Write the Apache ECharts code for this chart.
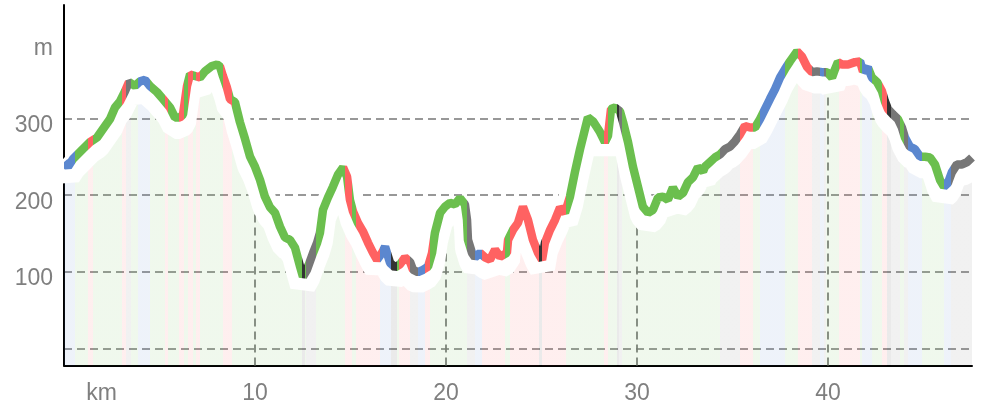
<!DOCTYPE html>
<html><head><meta charset="utf-8">
<script src="https://cdn.jsdelivr.net/npm/echarts@6/dist/echarts.min.js"></script>
<style>html,body{margin:0;padding:0;background:#fff}#c{width:983px;height:407px}</style>
</head><body><div id="c"></div>
<script>
// ---- data (distance in km, elevation in m) ----
const distKm = [0,0.21,0.47,0.99,1.36,1.73,2.04,2.41,2.67,2.93,3.19,3.40,3.72,3.98,4.24,4.50,4.87,5.18,5.55,5.81,6.07,6.23,6.44,6.60,6.86,7.12,7.38,7.75,8.01,8.17,8.32,8.53,8.69,8.95,9.21,9.48,9.74,10.00,10.26,10.52,10.79,11.05,11.31,11.57,11.83,12.09,12.36,12.51,12.72,13.04,13.25,13.40,13.56,13.82,14.08,14.35,14.61,14.82,14.97,15.13,15.39,15.65,15.92,16.18,16.39,16.65,16.81,17.07,17.33,17.59,17.85,18.12,18.27,18.53,18.80,19.06,19.27,19.42,19.69,19.95,20.21,20.47,20.73,20.99,21.10,21.15,21.36,21.52,21.78,22.04,22.30,22.57,22.83,23.19,23.25,23.51,23.77,24.03,24.29,24.55,24.82,25.03,25.18,25.45,25.71,25.97,26.23,26.49,26.75,27.02,27.28,27.43,27.70,27.91,28.06,28.32,28.48,28.64,28.85,29.11,29.27,29.53,29.79,30.05,30.31,30.58,30.84,31.10,31.36,31.62,31.88,32.15,32.41,32.67,32.93,33.19,33.46,33.56,33.82,34.08,34.35,34.61,34.87,35.13,35.39,35.65,35.92,36.18,36.44,36.70,36.96,37.23,37.49,37.75,38.01,38.38,38.64,38.90,39.16,39.42,39.69,39.95,40.21,40.37,40.52,40.73,41.05,41.41,41.68,41.83,42.09,42.30,42.57,42.83,42.98,43.14,43.40,43.66,43.87,44.03,44.29,44.55,44.82,45.08,45.34,45.60,45.86,46.07,46.28,46.49,46.75,47.02,47.28,47.54];
const elevM = [243,237,247,260,269,275,286,299,314,322,335,347,342,348,350,342,334,325,314,301,301,305,342,357,355,353,361,368,370,367,355,340,325,321,295,273,250,237,220,198,184,177,159,145,142,132,107,94,103,125,138,151,181,197,211,227,236,224,194,179,164,153,138,125,116,125,133,112,106,110,119,113,103,100,103,107,125,151,177,185,190,188,196,188,168,142,125,119,125,119,116,129,120,125,142,155,164,185,168,142,125,116,138,155,168,184,177,198,230,260,286,301,296,288,282,269,277,312,314,309,295,269,237,211,185,177,181,197,198,194,210,198,203,217,223,236,231,237,243,249,253,260,263,270,279,290,288,288,299,312,325,338,353,364,374,387,380,367,360,361,360,360,353,364,373,370,370,373,374,361,366,353,347,335,322,312,305,299,288,275,263,260,250,250,249,240,220,211,216,230,240,240,243,249];

// segment start (km) and segment kind
const segStartKm = [0,0.58,1.26,1.52,3.05,3.22,3.5,3.85,4.5,5.3,5.42,6.02,6.28,6.5,6.75,6.9,7.1,8.3,8.8,12.45,12.6,12.65,13.2,14.7,15.08,15.3,16.55,17.1,17.45,17.55,18.1,18.55,18.9,19.15,21.1,21.5,21.9,23.1,23.35,24.85,25.05,26.3,28.27,28.48,28.95,29.05,29.2,34.35,35.4,36.07,36.44,37.75,38.45,39.15,39.6,39.8,39.9,40.58,41.7,41.8,42.3,42.85,43.1,43.3,43.75,43.98,44.2,44.9,46.05,46.45];
const segKind   = ['b','g','r','g','r','s','g','b','g','r','g','r','g','r','g','r','g','r','g','k','g','s','g','r','g','r','b','k','g','r','s','b','r','g','s','b','r','g','r','k','r','g','r','g','k','s','g','s','r','g','b','g','r','s','b','s','g','r','g','b','g','r','k','s','g','s','b','g','b','s'];

const yGridValues = [0,100,200,300];
const yLabelValues = [100,200,300,400];
const xLabelValues = [0,10,20,30,40];
const xGridKm = [10,20,30,40];
const xUnit = 'km';
const yUnit = 'm';

// ---- styles ----
const kindColor = {g:'#6bbf4e', r:'#ff6262', b:'#5b87cf', s:'#777777', k:'#333333'};
const X_MAX = 47.54, Y_MIN = -21.5, Y_MAX = 447.3, GLOW_DROP = 11;
const TXT = '#7f7f7f', GRID = '#777777';

const n = Math.min(distKm.length, elevM.length);
const linePts = [], glowPts = [];
for (let i = 0; i < n; i++) {
  linePts.push([distKm[i], elevM[i]]);
  glowPts.push([distKm[i], elevM[i] - GLOW_DROP]);
}
const pieces = segStartKm.map((s, i) => {
  const p = {gte: s, color: kindColor[segKind[i]]};
  if (i < segStartKm.length - 1) p.lt = segStartKm[i + 1]; else p.lte = X_MAX + 1;
  return p;
});
function elevAt(x) {
  for (let i = 1; i < n; i++) {
    if (distKm[i] >= x) {
      const t = (x - distKm[i-1]) / (distKm[i] - distKm[i-1]);
      return elevM[i-1] + t * (elevM[i] - elevM[i-1]);
    }
  }
  return elevM[n-1];
}
const vLines = xGridKm.map(x => [{coord:[x, Y_MIN]}, {coord:[x, elevAt(x)]}]);

const font = {fontFamily:"'Liberation Sans', Arial, sans-serif", fontSize:23, color:TXT};
const chart = echarts.init(document.getElementById('c'));
chart.setOption({
  animation: false,
  grid: {left:64, right:11, top:5, bottom:41.5},
  xAxis: {
    type:'value', min:0, max:X_MAX,
    axisLine:{onZero:false, lineStyle:{color:'#000', width:2}},
    axisTick:{show:false},
    splitLine:{show:false},
    axisLabel:Object.assign({
      customValues:xLabelValues, margin:17,
      formatter: v => v === 0 ? '{u|' + xUnit + '}' : String(v),
      rich:{u:Object.assign({padding:[0,0,0,75]}, font)}
    }, font)
  },
  yAxis: {
    type:'value', min:Y_MIN, max:Y_MAX,
    axisLine:{show:true, onZero:false, lineStyle:{color:'#000', width:2}},
    axisTick:{show:false, customValues:yGridValues},
    splitLine:{show:true, lineStyle:{color:GRID, width:1.7, type:[8,5]}},
    axisLabel:Object.assign({
      customValues:yLabelValues, margin:11,
      formatter: v => '{v|' + (v === 400 ? yUnit : String(v)) + '}',
      rich:{v:Object.assign({padding:[14,0,0,0]}, font)}
    }, font)
  },
  visualMap: {type:'piecewise', show:false, dimension:0, seriesIndex:[0,1], pieces:pieces},
  series: [
    {
      type:'line', data:glowPts, symbol:'none', silent:true, z:2,
      lineStyle:{color:'#ffffff', width:26},
      areaStyle:{opacity:0.1, origin:'start'},
      markLine:{silent:true, symbol:['none','none'], z:1, label:{show:false},
        lineStyle:{color:GRID, width:1.7, type:[8,5]}, data:vLines, animation:false}
    },
    {
      type:'line', data:linePts, symbol:'none', silent:true, z:3,
      lineStyle:{width:8.5}
    }
  ]
});
</script>
</body></html>
